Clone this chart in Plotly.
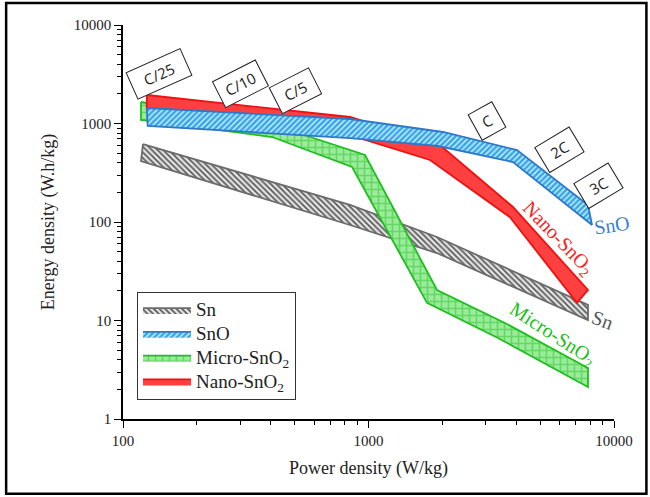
import numpy as np
import plotly.graph_objects as go

# band edges: power density (W/kg) vs energy density (W.h/kg)
sn_x_top = [120.6, 840.6, 1901, 7836]
sn_y_top = [619, 149, 70.4, 14.4]
sn_x_bot = [118.4, 840.6, 1901, 7836]
sn_y_bot = [416, 93.2, 48.4, 10.1]

sno_x_top = [125, 841, 2012, 4026, 7836]
sno_y_top = [1437, 1111, 820, 538, 149]
sno_x_bot = [126, 841, 1919, 3878, 8137]
sno_y_bot = [943, 712, 591, 406, 93.2]

micro_x_top = [118.4, 436, 968, 1901, 3597, 7836]
micro_y_top = [1653, 921, 479, 20.4, 9.43, 3.29]
micro_x_bot = [118.4, 405, 857, 1731, 3369, 7836]
micro_y_bot = [1085, 729, 362, 15.1, 6.64, 2.11]

nano_x_top = [125, 841, 1955, 3878, 7836]
nano_y_top = [1947, 1164, 605, 142, 20.4]
nano_x_bot = [125, 841, 1780, 3770, 7068]
nano_y_bot = [1372, 764, 426, 112, 15.1]

# C-rate tags
rate_labels = ["C/25", "C/10", "C/5", "C", "2C", "3C"]
rate_x = [140, 300, 502, 3038, 5970, 8610]
rate_y = [3184, 2518, 2138, 1060, 538, 232]

# curve names written next to the bands
name_labels = ["SnO", "Nano-SnO<sub>2</sub>", "Micro-SnO<sub>2</sub>", "Sn"]
name_x = [9815, 5916, 5591, 9016]
name_y = [93.2, 68.8, 7.13, 10.1]

x_ticks = [100, 1000, 10000]
x_ticktext = ["100", "1000", "10000"]
y_ticks = [1, 10, 100, 1000, 10000]
y_ticktext = ["1", "10", "100", "1000", "10000"]

SERIF = "Liberation Serif, Times New Roman, serif"


def leg(txt):
    # bigger legend text while keeping the rows tight
    return "<span style='font-size:19px'>" + txt + "</span>"


def band(xt, yt, xb, yb, name, line_col, rank, pattern=None, fillcolor=None):
    return go.Scatter(
        x=list(xt) + list(xb)[::-1] + [xt[0]],
        y=list(yt) + list(yb)[::-1] + [yt[0]],
        mode="lines", fill="toself", name=leg(name),
        line=dict(color=line_col, width=1.8),
        fillpattern=pattern, fillcolor=fillcolor, legendrank=rank,
        hoverinfo="skip",
    )


fig = go.Figure()
fig.add_trace(band(sn_x_top, sn_y_top, sn_x_bot, sn_y_bot, "Sn", "#6b6b6b", 1,
                   pattern=dict(shape="\\", size=4, solidity=0.45, fgcolor="#5a5a5a", bgcolor="#e6e6e6", fillmode="replace")))
fig.add_trace(band(micro_x_top, micro_y_top, micro_x_bot, micro_y_bot, "Micro-SnO<sub>2</sub>", "#1fbf1f", 3,
                   pattern=dict(shape="+", size=7, solidity=0.4, fgcolor="#63d863", bgcolor="#9ceb9c", fillmode="replace")))
fig.add_trace(band(nano_x_top, nano_y_top, nano_x_bot, nano_y_bot, "Nano-SnO<sub>2</sub>", "#ee1111", 4,
                   fillcolor="#ff4040"))
fig.add_trace(band(sno_x_top, sno_y_top, sno_x_bot, sno_y_bot, "SnO", "#2f78c8", 2,
                   pattern=dict(shape="/", size=4, solidity=0.3, fgcolor="#e8f6ff", bgcolor="#35a9ea", fillmode="replace")))

rate_angles = [-24, -27, -27, -29, -31, -31]
rate_widths = [46, 35, 31, 14, 27, 27]
for lab, px, py, ang, w in zip(rate_labels, rate_x, rate_y, rate_angles, rate_widths):
    fig.add_annotation(
        x=np.log10(px), y=np.log10(py), text=lab, showarrow=False,
        textangle=ang, width=w, height=16, borderpad=6,
        bgcolor="white", bordercolor="#222", borderwidth=1,
        font=dict(family="Open Sans, sans-serif", size=15, color="#222"),
    )

name_colors = ["#3b7fd8", "#ff2020", "#20bf20", "#555555"]
name_angles = [-8, 46, 33, 20]
for lab, px, py, col, ang in zip(name_labels, name_x, name_y, name_colors, name_angles):
    fig.add_annotation(
        x=np.log10(px), y=np.log10(py), text=lab, showarrow=False,
        textangle=ang, font=dict(family=SERIF, size=20, color=col),
    )

# frame around the whole picture
fig.add_shape(type="rect", xref="paper", yref="paper",
              x0=-0.238, x1=1.066, y0=-0.19, y1=1.056,
              line=dict(color="black", width=2.5))

fig.update_xaxes(
    type="log", range=[2, 4], tickvals=x_ticks, ticktext=x_ticktext,
    ticks="outside", ticklen=7, tickwidth=1.3, tickcolor="black",
    minor=dict(ticks="outside", ticklen=4, tickcolor="black", dtick="D1", showgrid=False),
    showline=True, linecolor="black", linewidth=1.5, showgrid=False, zeroline=False,
    tickfont=dict(family=SERIF, size=15, color="#222"),
    title=dict(text="Power density (W/kg)", font=dict(family=SERIF, size=18, color="#222"), standoff=14),
)
fig.update_yaxes(
    type="log", range=[0, 4], tickvals=y_ticks, ticktext=y_ticktext,
    ticks="outside", ticklen=7, tickwidth=1.3, tickcolor="black",
    minor=dict(ticks="outside", ticklen=4, tickcolor="black", dtick="D1", showgrid=False),
    showline=True, linecolor="black", linewidth=1.5, showgrid=False, zeroline=False,
    tickfont=dict(family=SERIF, size=15, color="#222"),
    title=dict(text="Energy density (W.h/kg)", font=dict(family=SERIF, size=18, color="#222"), standoff=14),
)

fig.update_layout(
    width=650, height=497,
    margin=dict(l=123, r=36, t=25, b=78),
    paper_bgcolor="white", plot_bgcolor="white",
    showlegend=True,
    legend=dict(
        x=0.0285, y=0.322, xanchor="left", yanchor="top",
        bgcolor="white", bordercolor="#333", borderwidth=1,
        font=dict(family=SERIF, size=16, color="#222"),
        itemwidth=48, traceorder="normal",
    ),
)

fig.write_html("out.html", config={"displayModeBar": False},
               post_script="document.body.style.margin='0';")
